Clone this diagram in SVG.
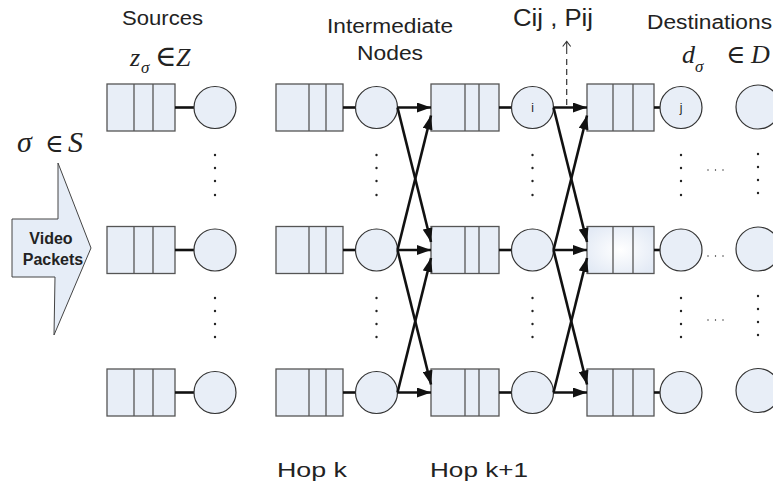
<svg xmlns="http://www.w3.org/2000/svg" width="773" height="487" viewBox="0 0 773 487">
<style>
.q{fill:#e8eef7;stroke:#555;stroke-width:1.3}
.qd{stroke:#555;stroke-width:1.3}
.c{fill:#e8eef7;stroke:#333;stroke-width:1.2}
.lk{stroke:#111;stroke-width:2.6;fill:none}
.ar{stroke:#111;stroke-width:2.6;fill:none;marker-end:url(#ah)}
.dot{fill:#222}
.t{font-family:"Liberation Sans",Arial,sans-serif;fill:#222}
.m{font-family:"Liberation Serif","Times New Roman",serif;fill:#222}
.e{font-family:"DejaVu Serif",serif;fill:#222}
</style>
<defs>
<marker id="ah" viewBox="0 0 14 10" refX="14" refY="5" markerWidth="14" markerHeight="10" markerUnits="userSpaceOnUse" orient="auto">
<path d="M0,0 L14,5 L0,10 Z" fill="#111"/>
</marker>
<radialGradient id="glow" cx="0.5" cy="0.5" r="0.6">
<stop offset="0" stop-color="#ffffff"/>
<stop offset="1" stop-color="#e3eaf5"/>
</radialGradient>
</defs>

<!-- Labels -->
<g id="labels">
<text class="t" x="122" y="24.5" font-size="20" textLength="81" lengthAdjust="spacingAndGlyphs">Sources</text>
<text class="t" x="327" y="32.5" font-size="20" textLength="126" lengthAdjust="spacingAndGlyphs">Intermediate</text>
<text class="t" x="357" y="60" font-size="20" textLength="66" lengthAdjust="spacingAndGlyphs">Nodes</text>
<text class="t" x="513" y="26" font-size="23" textLength="80" lengthAdjust="spacingAndGlyphs">Cij , Pij</text>
<text class="t" x="647" y="28.5" font-size="20" textLength="125" lengthAdjust="spacingAndGlyphs">Destinations</text>
<text class="t" x="277" y="477" font-size="21" textLength="70" lengthAdjust="spacingAndGlyphs">Hop k</text>
<text class="t" x="430" y="477" font-size="21" textLength="98" lengthAdjust="spacingAndGlyphs">Hop k+1</text>
<text class="m" x="130" y="65.7" font-size="26" font-style="italic">z</text>
<text class="m" x="141" y="73" font-size="17" font-style="italic">σ</text>
<text class="e" x="155" y="66" font-size="29">∈</text>
<text class="m" x="176" y="65.7" font-size="26" font-style="italic">Z</text>
<text class="m" x="682" y="63" font-size="26" font-style="italic">d</text>
<text class="m" x="695" y="72" font-size="17" font-style="italic">σ</text>
<text class="e" x="726" y="63" font-size="26">∈</text>
<text class="m" x="751" y="63" font-size="26" font-style="italic">D</text>
<text class="m" x="17" y="152" font-size="30" font-style="italic">σ</text>
<text class="e" x="45" y="152" font-size="25">∈</text>
<text class="m" x="68" y="152" font-size="30" font-style="italic">S</text>
</g>

<!-- Video packets arrow -->
<g id="video">
<polygon points="12,219 58,219 58,163 91,248 54,335 55,277 12,277" fill="#e6edf7" stroke="#444" stroke-width="1"/>
<text class="t" x="51" y="243.5" font-size="16" font-weight="bold" text-anchor="middle">Video</text>
<text class="t" x="53" y="264.5" font-size="16" font-weight="bold" text-anchor="middle">Packets</text>
</g>

<!-- Source nodes -->
<g id="src1"><rect class="q" x="107" y="84" width="68" height="47"/><line class="qd" x1="134" y1="84" x2="134" y2="131"/><line class="qd" x1="153" y1="84" x2="153" y2="131"/><line class="lk" x1="175" y1="107.5" x2="194" y2="107.5"/><circle class="c" cx="215" cy="107.5" r="21"/></g>
<g id="src2"><rect class="q" x="107" y="226.5" width="68" height="47"/><line class="qd" x1="134" y1="226.5" x2="134" y2="273.5"/><line class="qd" x1="153" y1="226.5" x2="153" y2="273.5"/><line class="lk" x1="175" y1="250" x2="194" y2="250"/><circle class="c" cx="215" cy="250" r="21"/></g>
<g id="src3"><rect class="q" x="107" y="369" width="68" height="47"/><line class="qd" x1="134" y1="369" x2="134" y2="416"/><line class="qd" x1="153" y1="369" x2="153" y2="416"/><line class="lk" x1="175" y1="392.5" x2="194" y2="392.5"/><circle class="c" cx="215" cy="392.5" r="21"/></g>

<!-- Hop k nodes -->
<g id="k1"><rect class="q" x="276" y="84" width="67" height="47"/><line class="qd" x1="309" y1="84" x2="309" y2="131"/><line class="qd" x1="326" y1="84" x2="326" y2="131"/><line class="lk" x1="343" y1="107.5" x2="355.5" y2="107.5"/><circle class="c" cx="376.5" cy="107.5" r="21"/></g>
<g id="k2"><rect class="q" x="276" y="226.5" width="67" height="47"/><line class="qd" x1="309" y1="226.5" x2="309" y2="273.5"/><line class="qd" x1="326" y1="226.5" x2="326" y2="273.5"/><line class="lk" x1="343" y1="250" x2="355.5" y2="250"/><circle class="c" cx="376.5" cy="250" r="21"/></g>
<g id="k3"><rect class="q" x="276" y="369" width="67" height="47"/><line class="qd" x1="309" y1="369" x2="309" y2="416"/><line class="qd" x1="326" y1="369" x2="326" y2="416"/><line class="lk" x1="343" y1="392.5" x2="355.5" y2="392.5"/><circle class="c" cx="376.5" cy="392.5" r="21"/></g>

<!-- Hop k+1 nodes -->
<g id="i1"><rect class="q" x="431" y="84" width="68" height="47"/><line class="qd" x1="465" y1="84" x2="465" y2="131"/><line class="qd" x1="479" y1="84" x2="479" y2="131"/><line class="lk" x1="499" y1="107.5" x2="511.5" y2="107.5"/><circle class="c" cx="532.5" cy="107.5" r="21"/><text class="t" x="532.5" y="112" font-size="12" text-anchor="middle">i</text></g>
<g id="i2"><rect class="q" x="431" y="226.5" width="68" height="47"/><line class="qd" x1="465" y1="226.5" x2="465" y2="273.5"/><line class="qd" x1="479" y1="226.5" x2="479" y2="273.5"/><line class="lk" x1="499" y1="250" x2="511.5" y2="250"/><circle class="c" cx="532.5" cy="250" r="21"/></g>
<g id="i3"><rect class="q" x="431" y="369" width="68" height="47"/><line class="qd" x1="465" y1="369" x2="465" y2="416"/><line class="qd" x1="479" y1="369" x2="479" y2="416"/><line class="lk" x1="499" y1="392.5" x2="511.5" y2="392.5"/><circle class="c" cx="532.5" cy="392.5" r="21"/></g>

<!-- Hop k+2 nodes -->
<g id="j1"><rect class="q" x="587" y="84" width="67" height="47"/><line class="qd" x1="613" y1="84" x2="613" y2="131"/><line class="qd" x1="633" y1="84" x2="633" y2="131"/><line class="lk" x1="654" y1="107.5" x2="660" y2="107.5"/><circle class="c" cx="681" cy="107.5" r="21"/><text class="t" x="681" y="112" font-size="12" text-anchor="middle">j</text></g>
<g id="j2"><rect class="q" x="587" y="226.5" width="67" height="47" style="fill:url(#glow)"/><line class="qd" x1="613" y1="226.5" x2="613" y2="273.5"/><line class="qd" x1="633" y1="226.5" x2="633" y2="273.5"/><line class="lk" x1="654" y1="250" x2="660" y2="250"/><circle class="c" cx="681" cy="250" r="21"/></g>
<g id="j3"><rect class="q" x="587" y="369" width="67" height="47"/><line class="qd" x1="613" y1="369" x2="613" y2="416"/><line class="qd" x1="633" y1="369" x2="633" y2="416"/><line class="lk" x1="654" y1="392.5" x2="660" y2="392.5"/><circle class="c" cx="681" cy="392.5" r="21"/></g>

<!-- Destination nodes -->
<g id="d1"><circle class="c" cx="758" cy="107" r="22"/></g>
<g id="d2"><circle class="c" cx="758" cy="249" r="22"/></g>
<g id="d3"><circle class="c" cx="758" cy="390.5" r="22"/></g>

<!-- Ellipsis dots -->
<g id="dots">
<circle class="dot" cx="215" cy="155" r="1.2"/><circle class="dot" cx="215" cy="168" r="1.2"/><circle class="dot" cx="215" cy="181" r="1.2"/><circle class="dot" cx="215" cy="195" r="1.2"/>
<circle class="dot" cx="215" cy="298" r="1.2"/><circle class="dot" cx="215" cy="311" r="1.2"/><circle class="dot" cx="215" cy="324" r="1.2"/><circle class="dot" cx="215" cy="337" r="1.2"/>
<circle class="dot" cx="376.5" cy="155" r="1.2"/><circle class="dot" cx="376.5" cy="168" r="1.2"/><circle class="dot" cx="376.5" cy="181" r="1.2"/><circle class="dot" cx="376.5" cy="195" r="1.2"/>
<circle class="dot" cx="376.5" cy="298" r="1.2"/><circle class="dot" cx="376.5" cy="311" r="1.2"/><circle class="dot" cx="376.5" cy="324" r="1.2"/><circle class="dot" cx="376.5" cy="337" r="1.2"/>
<circle class="dot" cx="532.5" cy="155" r="1.2"/><circle class="dot" cx="532.5" cy="168" r="1.2"/><circle class="dot" cx="532.5" cy="181" r="1.2"/><circle class="dot" cx="532.5" cy="195" r="1.2"/>
<circle class="dot" cx="532.5" cy="298" r="1.2"/><circle class="dot" cx="532.5" cy="311" r="1.2"/><circle class="dot" cx="532.5" cy="324" r="1.2"/><circle class="dot" cx="532.5" cy="337" r="1.2"/>
<circle class="dot" cx="681" cy="155" r="1.2"/><circle class="dot" cx="681" cy="168" r="1.2"/><circle class="dot" cx="681" cy="181" r="1.2"/><circle class="dot" cx="681" cy="195" r="1.2"/>
<circle class="dot" cx="681" cy="298" r="1.2"/><circle class="dot" cx="681" cy="311" r="1.2"/><circle class="dot" cx="681" cy="324" r="1.2"/><circle class="dot" cx="681" cy="337" r="1.2"/>
<circle class="dot" cx="758" cy="154" r="1.2"/><circle class="dot" cx="758" cy="167" r="1.2"/><circle class="dot" cx="758" cy="180" r="1.2"/><circle class="dot" cx="758" cy="193" r="1.2"/>
<circle class="dot" cx="758" cy="296" r="1.2"/><circle class="dot" cx="758" cy="309" r="1.2"/><circle class="dot" cx="758" cy="322" r="1.2"/><circle class="dot" cx="758" cy="335" r="1.2"/>
<circle class="dot" cx="708" cy="170" r="0.7"/><circle class="dot" cx="715.5" cy="170" r="0.7"/><circle class="dot" cx="723" cy="170" r="0.7"/>
<circle class="dot" cx="708" cy="256" r="0.7"/><circle class="dot" cx="715.5" cy="256" r="0.7"/><circle class="dot" cx="723" cy="256" r="0.7"/>
<circle class="dot" cx="708" cy="320" r="0.7"/><circle class="dot" cx="715.5" cy="320" r="0.7"/><circle class="dot" cx="723" cy="320" r="0.7"/>
</g>

<!-- Connectors -->
<g id="connectors">
<line class="ar" x1="397.5" y1="107.5" x2="431" y2="107.5"/>
<line class="ar" x1="397.5" y1="250" x2="431" y2="250"/>
<line class="ar" x1="397.5" y1="392.5" x2="431" y2="392.5"/>
<line class="ar" x1="397.5" y1="107.5" x2="431" y2="242"/>
<line class="ar" x1="397.5" y1="250" x2="431" y2="115.5"/>
<line class="ar" x1="397.5" y1="250" x2="431" y2="384.5"/>
<line class="ar" x1="397.5" y1="392.5" x2="431" y2="258"/>
<line class="ar" x1="553.5" y1="107.5" x2="587" y2="107.5"/>
<line class="ar" x1="553.5" y1="250" x2="587" y2="250"/>
<line class="ar" x1="553.5" y1="392.5" x2="587" y2="392.5"/>
<line class="ar" x1="553.5" y1="107.5" x2="587" y2="242"/>
<line class="ar" x1="553.5" y1="250" x2="587" y2="115.5"/>
<line class="ar" x1="553.5" y1="250" x2="587" y2="384.5"/>
<line class="ar" x1="553.5" y1="392.5" x2="587" y2="258"/>
<line x1="566.7" y1="105" x2="566.7" y2="56" stroke="#333" stroke-width="1.2" stroke-dasharray="6,4"/>
<line x1="566.7" y1="54" x2="566.7" y2="41.5" stroke="#333" stroke-width="1.1"/>
<path d="M562.7,46.5 L566.7,41.5 L570.7,46.5" fill="none" stroke="#333" stroke-width="1.1"/>
</g>
</svg>
